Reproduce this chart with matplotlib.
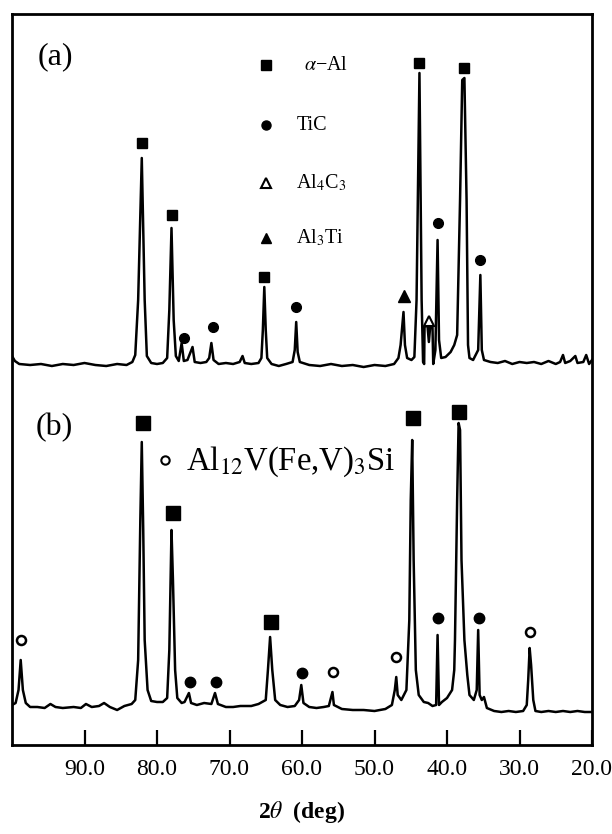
import matplotlib
matplotlib.use("Agg")
import matplotlib.pyplot as plt
import numpy as np

plt.rcParams['font.family'] = ['Liberation Serif', 'DejaVu Serif']
plt.rcParams['mathtext.fontset'] = 'stix'

# pattern (a): 2theta (deg) and intensity (a.u.)
tt_a = [100.0, 99.6, 99.0, 97.5, 96.0, 94.5, 93.0, 91.5, 90.0, 88.5, 87.0, 85.5, 84.2, 83.4,
        83.0, 82.6, 82.1, 81.7, 81.4, 80.8, 80.0, 79.2,
        78.6, 78.3, 78.0, 77.7, 77.4, 77.0,
        76.6, 76.3, 75.8, 75.1, 74.8, 74.0, 73.2, 72.8, 72.5, 72.2, 71.5, 70.5, 69.5,
        68.6, 68.2, 67.9, 67.0, 66.0,
        65.6, 65.4, 65.2, 65.0, 64.8, 64.2, 63.2, 62.2, 61.3,
        61.0, 60.8, 60.6, 60.3, 59.0, 57.5, 56.0, 54.5, 53.0, 51.5, 50.0, 48.5, 47.3, 46.7,
        46.4, 46.0, 45.8, 45.5, 44.9, 44.5,
        44.2, 43.8, 43.5, 43.3, 43.15,
        43.1, 42.7, 42.5, 42.3, 42.0, 41.9,
        41.6, 41.3, 41.1, 40.8, 40.2, 39.5, 39.0,
        38.6, 38.2, 37.9, 37.6, 37.3, 37.1, 36.9, 36.4,
        35.7, 35.4, 35.2, 34.9, 34.0, 33.0, 32.0, 31.0, 30.0, 29.0, 28.0, 27.0, 26.0, 25.0,
        24.4, 24.0, 23.7, 23.0, 22.3, 22.0, 21.2, 20.8, 20.4, 20.0]
int_a = [47, 42, 39, 38, 39, 37, 39, 38, 40, 38, 37, 39, 38, 41,
         48, 103, 245, 103, 47, 40, 39, 40,
         45, 93, 175, 83, 47, 42,
         60, 42, 43, 56, 41, 40, 41, 45, 60, 43, 39, 40, 39,
         41, 47, 40, 39, 40,
         45, 73, 116, 73, 45, 39, 37, 39, 41,
         53, 81, 51, 41, 38, 37, 39, 37, 38, 36, 38, 37, 39, 45,
         58, 91, 58, 45, 43, 46,
         103, 330, 103, 41, 39,
         76, 78, 61, 78, 76, 39,
         53, 163, 63, 45, 46, 51, 58,
         68, 203, 323, 325, 203, 58, 45, 43,
         53, 128, 53, 43, 41, 40, 42, 39, 41, 40, 41, 39, 42, 39,
         41, 48, 40, 42, 47, 40, 41, 48, 39, 43]

# pattern (b)
tt_b = [100.0, 99.5, 99.1, 98.8, 98.5, 98.1, 97.5, 96.5, 95.5, 94.7, 94.0, 93.0, 91.5, 90.5,
        89.8, 89.0, 88.0, 87.3, 86.5, 85.5, 84.5, 83.5,
        83.0, 82.6, 82.3, 82.1, 81.9, 81.7, 81.3, 80.8, 80.0, 79.2,
        78.6, 78.3, 78.0, 77.8, 77.5, 77.2, 76.6, 76.2,
        75.6, 75.3, 74.5, 73.5, 72.5, 72.0, 71.6, 70.5, 69.5, 68.5, 67.0, 66.0, 65.0,
        64.7, 64.4, 64.1, 63.7, 63.0, 62.0, 61.0, 60.4,
        60.1, 59.8, 59.0, 58.0, 57.0, 56.3, 55.8, 55.6, 54.5, 53.0, 51.5, 50.0, 48.5, 47.6,
        47.2, 47.0, 46.8, 46.3, 45.6,
        45.2, 45.0, 44.8, 44.6, 44.3, 43.9, 43.2, 42.6, 42.0, 41.5,
        41.3, 41.1, 40.7, 40.0, 39.3, 39.0,
        38.9, 38.6, 38.4, 38.2, 38.0, 37.6, 37.2, 36.9, 36.3,
        35.9, 35.7, 35.5, 35.2, 34.9, 34.5, 33.5, 32.5, 31.5, 30.5, 29.5, 29.0,
        28.8, 28.6, 28.4, 28.1, 27.8, 27.0, 26.0, 25.0, 24.0, 23.0, 22.0, 21.0, 20.0]
int_b = [40, 42, 55, 85, 55, 42, 38, 38, 37, 41, 38, 37, 38, 37,
         41, 38, 39, 42, 38, 35, 39, 41,
         45, 85, 225, 303, 215, 105, 55, 44, 43, 43,
         47, 95, 215, 165, 75, 47, 42, 43,
         52, 42, 40, 42, 41, 52, 41, 38, 38, 39, 39, 41, 45,
         75, 108, 75, 45, 40, 38, 39, 45,
         60, 42, 38, 37, 38, 39, 53, 40, 36, 35, 35, 34, 36, 40,
         55, 68, 50, 45, 55,
         125, 245, 305, 185, 75, 50, 43, 42, 39, 40,
         110, 40, 43, 47, 55, 75,
         105, 245, 322, 315, 185, 105, 70, 50, 45,
         55, 115, 50, 45, 48, 37, 34, 33, 34, 33, 34, 40,
         65, 97, 80, 45, 34, 33, 34, 33, 34, 33, 34, 33, 33]

offset_a = 342

# phase markers (2theta, intensity) for pattern (a)
al_a_tt = [82.1, 78.0, 65.2, 43.8, 37.6]
al_a_int = [260, 188, 126, 340, 335]
tic_a_tt = [76.3, 72.3, 60.8, 41.3, 35.4]
tic_a_int = [65, 76, 96, 180, 143]
al4c3_a_tt = [42.5]
al4c3_a_int = [82]
al3ti_a_tt = [46.0]
al3ti_a_int = [107]

# phase markers for pattern (b)
al_b_tt = [82.0, 77.8, 64.3, 44.7, 38.3]
al_b_int = [322, 232, 123, 327, 333]
tic_b_tt = [75.4, 71.8, 60.0, 41.2, 35.6]
tic_b_int = [63, 63, 72, 127, 127]
alv_b_tt = [98.7, 55.7, 47.0, 28.5]
alv_b_int = [105, 73, 88, 113]

xticks = [90, 80, 70, 60, 50, 40, 30, 20]
xticklabels = ['90.0', '80.0', '70.0', '60.0', '50.0', '40.0', '30.0', '20.0']

fig = plt.figure(figsize=(6.12, 8.34), dpi=100)
ax = fig.add_axes([12 / 612, 89 / 834, 580 / 612, 731 / 834])

lw = 1.8
ax.plot(tt_a, np.array(int_a) + offset_a, color='black', lw=lw)
ax.plot(tt_b, int_b, color='black', lw=lw)

# markers (a)
ax.plot(al_a_tt, np.array(al_a_int) + offset_a, 's', color='black', ms=7)
ax.plot(tic_a_tt, np.array(tic_a_int) + offset_a, 'o', color='black', ms=7)
ax.plot(al4c3_a_tt, np.array(al4c3_a_int) + offset_a, '^', mfc='white', mec='black', mew=1.5, ms=7)
ax.plot(al3ti_a_tt, np.array(al3ti_a_int) + offset_a, '^', color='black', ms=8)

# markers (b)
ax.plot(al_b_tt, al_b_int, 's', color='black', ms=10)
ax.plot(tic_b_tt, tic_b_int, 'o', color='black', ms=7.5)
ax.plot(alv_b_tt, alv_b_int, 'o', mfc='white', mec='black', mew=1.8, ms=6.5)

# legend (a)
tr = ax.transAxes
ax.plot([0.438], [0.930], 's', color='black', ms=6.5, transform=tr)
ax.plot([0.438], [0.848], 'o', color='black', ms=6.5, transform=tr)
ax.plot([0.438], [0.769], '^', mfc='white', mec='black', mew=1.5, ms=7, transform=tr)
ax.plot([0.438], [0.694], '^', color='black', ms=7, transform=tr)
fs_leg = 14.5
ax.text(0.503, 0.930, r'$\alpha$−Al', transform=tr, fontsize=fs_leg, va='center')
ax.text(0.490, 0.848, 'TiC', transform=tr, fontsize=fs_leg, va='center')
ax.text(0.490, 0.769, r'Al$_4$C$_3$', transform=tr, fontsize=fs_leg, va='center')
ax.text(0.490, 0.694, r'Al$_3$Ti', transform=tr, fontsize=fs_leg, va='center')

# legend (b)
ax.plot([0.264], [0.390], 'o', mfc='white', mec='black', mew=1.5, ms=6, transform=tr)
ax.text(0.300, 0.388, r'Al$_{12}$V(Fe,V)$_3$Si', transform=tr, fontsize=23.5, va='center')

ax.text(0.045, 0.941, '(a)', transform=tr, fontsize=23, va='center')
ax.text(0.040, 0.434, '(b)', transform=tr, fontsize=23, va='center')

ax.set_xlim(100, 20)
ax.set_ylim(0, 731)
ax.set_yticks([])
ax.set_xticks(xticks)
ax.set_xticklabels(xticklabels)
ax.tick_params(axis='x', direction='in', length=11, width=1.6, labelsize=17, pad=10)
for s in ax.spines.values():
    s.set_linewidth(2.0)
ax.set_xlabel(r'2$\mathit{\theta}$  (deg)', fontsize=17, fontweight='bold', labelpad=14)

fig.savefig('out.png', dpi=100)
